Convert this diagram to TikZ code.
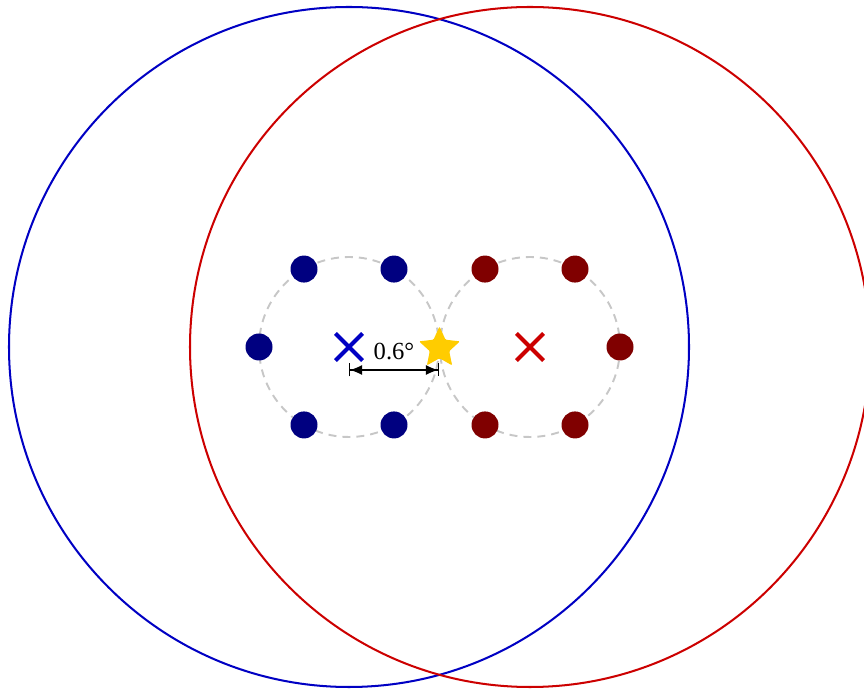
\documentclass[tikz,border=0pt]{standalone}
\usepackage{fontspec}
\setmainfont{Liberation Serif}
\usetikzlibrary{arrows.meta,calc,shapes.geometric,shapes.misc}

\definecolor{fovblue}{RGB}{0,0,195}
\definecolor{fovred}{RGB}{204,0,0}
\definecolor{dotblue}{RGB}{0,0,128}
\definecolor{dotred}{RGB}{128,0,0}
\definecolor{stargold}{RGB}{255,204,0}

\begin{document}
\begin{tikzpicture}[
    x=0.2mm,
    y=-0.2mm,
    fov/.style={
        line width=1.15pt
    },
    ring/.style={
        draw=black!22,
        line width=1.1pt,
        dash pattern=on 1.6mm off 1.2mm
    },
    pointing/.style={
        circle,
        inner sep=0pt,
        minimum size=5.4mm
    },
    centre/.style={
        cross out,
        draw,
        line width=2.3pt,
        inner sep=0pt,
        minimum size=4.6mm
    },
    target/.style={
        star,
        star points=5,
        star point ratio=2.1,
        fill=stargold,
        inner sep=0pt,
        minimum size=8.6mm,
        rounded corners=0.6pt
    },
    dim/.style={
        {Bar[width=2.6mm]Latex[length=2.4mm,width=2mm]}-{Latex[length=2.4mm,width=2mm]Bar[width=2.6mm]},
        line width=0.6pt
    }
]
\useasboundingbox (0,0) rectangle (864,690);

% Fields of view
\node[inner sep=0pt] (bluec) at (349,347) {};
\node[inner sep=0pt] (redc) at (530,347) {};
\draw[fov, fovblue] (bluec) circle[radius=340];
\draw[fov, fovred] (redc) circle[radius=340];

% Dither patterns
\draw[ring] (bluec) circle[radius=90];
\draw[ring] (redc) circle[radius=90];

\foreach \a in {60,120,180,240,300}
    \node[pointing, fill=dotblue] (b\a) at ($(bluec)+(\a:90)$) {};
\foreach \a in {0,60,120,240,300}
    \node[pointing, fill=dotred] (r\a) at ($(redc)+(\a:90)$) {};

% Pointing centres and source
\node[centre, fovblue] (bluex) at (bluec) {};
\node[centre, fovred] (redx) at (redc) {};
\node[target] (source) at (439.5,348) {};

% Offset
\coordinate (dimL) at (349,370);
\coordinate (dimR) at (439,370);
\draw[dim] (dimL) -- (dimR);
\node[font=\fontsize{14}{16}\selectfont] (offset) at (394,351) {0.6°};

\end{tikzpicture}
\end{document}
